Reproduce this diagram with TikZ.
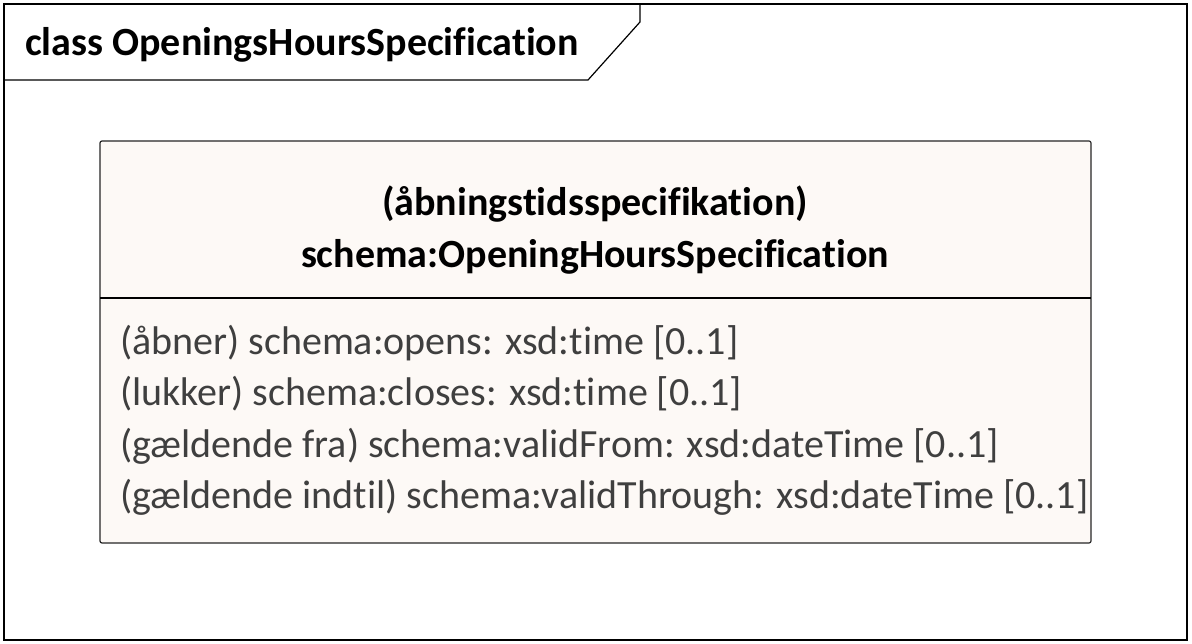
\documentclass[tikz,border=0pt]{standalone}
\usepackage{fontspec}
\setmainfont[Ligatures=NoCommon]{Carlito}
\begin{document}
\begin{tikzpicture}[x=1pt,y=-1pt,
  frameline/.style={draw=black,line width=1.2pt},
  classbox/.style={draw=black!85,line width=1.2pt,fill=classfill,rounded corners=2pt},
  attr/.style={anchor=base west,inner sep=0pt,text=attrgray,font=\fontsize{40}{48}\selectfont},
  head/.style={anchor=base,inner sep=0pt,font=\fontsize{40}{48}\selectfont\bfseries}]
\definecolor{classfill}{HTML}{FDF9F6}
\definecolor{attrgray}{HTML}{3F3F3F}
\useasboundingbox (0,0) rectangle (1192,644);
% diagram frame with its name tab
\draw[frameline] (4,4) rectangle (1187,640);
\draw[frameline] (4,80) -- (588,80) -- (640,22) -- (640,4);
\node[anchor=base west,inner sep=0pt,font=\fontsize{40}{48}\selectfont\bfseries] (frametitle) at (25,56) {class OpeningsHoursSpecification};
% the class
\draw[classbox] (100,141) rectangle (1091,543);
\draw[line width=1.2pt] (100,298) -- (1091,298);
\node[head] (cname1) at (595,216) {(åbningstidsspecifikation)};
\node[head] (cname2) at (595,268) {schema:OpeningHoursSpecification};
\node[attr] (a1) at (120,355) {(åbner) schema:opens: xsd:time [0..1]};
\node[attr] (a2) at (120,406) {(lukker) schema:closes: xsd:time [0..1]};
\node[attr] (a3) at (120,457) {(gældende fra) schema:validFrom: xsd:dateTime [0..1]};
\node[attr] (a4) at (120,508) {(gældende indtil) schema:validThrough: xsd:dateTime [0..1]};
\end{tikzpicture}
\end{document}
